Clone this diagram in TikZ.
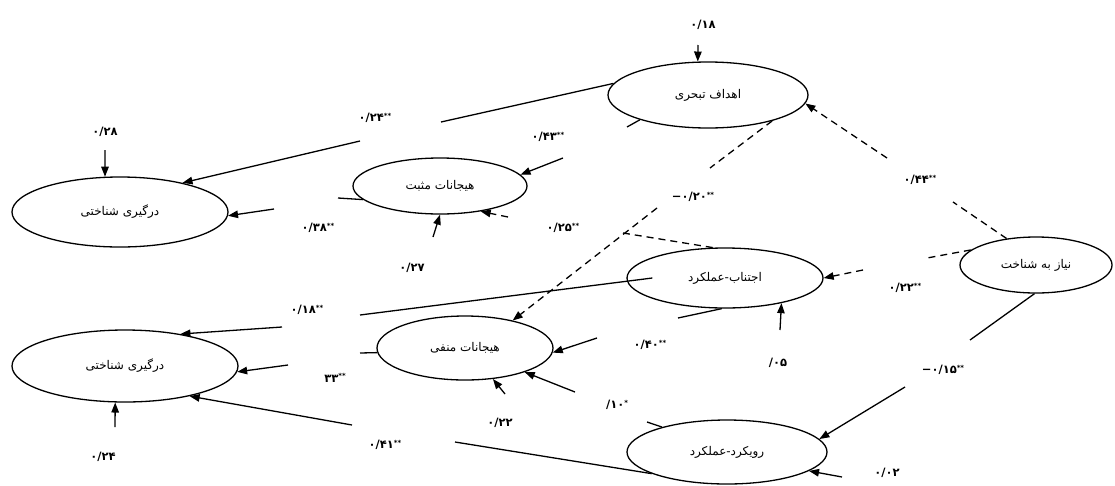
\documentclass[tikz,border=0pt]{standalone}
\usepackage{fontspec}
\newfontfamily\fa[Script=Arabic]{DejaVu Sans}
\newfontfamily\fanum{DejaVu Sans}
\TeXXeTstate=1
\usetikzlibrary{shapes.geometric,arrows.meta}
\newcommand\sig[1]{\raisebox{.6ex}{\fontsize{7}{7}\selectfont #1}}
\tikzset{
  ell/.style={ellipse, draw, line width=1.3pt, inner sep=0pt, font=\fa\fontsize{12}{14}\selectfont},
  lab/.style={font=\fanum\bfseries\fontsize{11.5}{13}\selectfont, inner sep=1pt},
  conn/.style={line width=1.3pt},
  arr/.style={conn, -{Triangle[length=10pt,width=7.5pt]}},
  dsh/.style={dash pattern=on 7pt off 5pt}
}
\begin{document}
\begin{tikzpicture}[x=1pt,y=-1pt]
\useasboundingbox[fill=white] (0,0) rectangle (1115,485);
% ellipses
\node[ell, minimum width=200pt, minimum height=66pt] (E1) at (708,95) {\beginR اهداف تبحری\endR};
\node[ell, minimum width=174pt, minimum height=56pt] (E2) at (440,186) {\beginR هیجانات مثبت\endR};
\node[ell, minimum width=216pt, minimum height=70pt] (E3) at (120,212) {\beginR درگیری شناختی\endR};
\node[ell, minimum width=152pt, minimum height=56pt] (E4) at (1036,265) {\beginR نیاز به شناخت\endR};
\node[ell, minimum width=196pt, minimum height=60pt] (E5) at (725,278) {\beginR اجتناب-عملکرد\endR};
\node[ell, minimum width=176pt, minimum height=64pt] (E6) at (465,348) {\beginR هیجانات منفی\endR};
\node[ell, minimum width=226pt, minimum height=72pt] (E7) at (125,366) {\beginR درگیری شناختی\endR};
\node[ell, minimum width=200pt, minimum height=64pt] (E8) at (727,452) {\beginR رویکرد-عملکرد\endR};
% gap coordinates
\coordinate (a1) at (441,122); \coordinate (a2) at (360,141);
\coordinate (c1) at (338,198); \coordinate (c2) at (274,209);
\coordinate (e1) at (627,127); \coordinate (e2) at (563,158);
\coordinate (f1) at (623,233); \coordinate (f2) at (508,217);
\coordinate (g1) at (710,168); \coordinate (g2) at (657,208);
\coordinate (h1) at (953,202); \coordinate (h2) at (887,158);
\coordinate (i1) at (927,258); \coordinate (i2) at (863,270);
\coordinate (j1) at (970,340); \coordinate (j2) at (905,387);
\coordinate (m1) at (360,315); \coordinate (m2) at (282,327);
\coordinate (n1) at (360,353); \coordinate (n2) at (288,365);
\coordinate (o1) at (455,442); \coordinate (o2) at (352,425);
\coordinate (q1) at (678,318); \coordinate (q2) at (597,338);
\coordinate (r1) at (647,422); \coordinate (r2) at (575,392);
% error sources
\coordinate (eB) at (105,150);
\coordinate (eD) at (433,237);
\coordinate (eL) at (780,330);
\coordinate (eP) at (115,427);
\coordinate (eS) at (505,394);
\coordinate (eK) at (842,477);
\coordinate (eT) at (698,45);
% paths
\draw[conn] (E1.173) -- (a1); \draw[arr] (a2) -- (E3.25);
\draw[conn] (E2.190) -- (c1); \draw[arr] (c2) -- (E3.-2);
\draw[conn] (E1.200) -- (e1); \draw[arr] (e2) -- (E2.8);
\draw[conn,dsh] (E5.112) -- (f1); \draw[arr,dsh] (f2) -- (E2.-32);
\draw[conn,dsh] (E1.-22) -- (g1); \draw[arr,dsh] (g2) -- (E6.30);
\draw[conn,dsh] (E4.138) -- (h1); \draw[arr,dsh] (h2) -- (E1.-5);
\draw[conn,dsh] (E4.167) -- (i1); \draw[arr,dsh] (i2) -- (E5.east);
\draw[conn] (E4.-93) -- (j1); \draw[arr] (j2) -- (E8.8);
\draw[conn] ([xshift=26pt]E5.west) -- (m1); \draw[arr] (m2) -- (E7.30);
\draw[conn] (E6.183) -- (n1); \draw[arr] (n2) -- (E7.-3);
\draw[conn] (E8.196) -- (o1); \draw[arr] (o2) -- (E7.-25);
\draw[conn] (E5.-96) -- (q1); \draw[arr] (q2) -- (E6.-3);
\draw[conn] (E8.159) -- (r1); \draw[arr] (r2) -- (E6.-22);
% error arrows
\draw[arr] (eB) -- (E3.113);
\draw[arr] (eD) -- (E2.south);
\draw[arr] (eL) -- (E5.-24);
\draw[arr] (eP) -- (E7.-105);
\draw[arr] (eS) -- (E6.-48);
\draw[arr] (eK) -- (E8.-13);
\draw[arr] (eT) -- (E1.107);
% labels
\node[lab] (LA) at (375,118) {۰/۲۴\sig{**}};
\node[lab] (LB) at (105,132) {۰/۲۸};
\node[lab] (LC) at (318,228) {۰/۳۸\sig{**}};
\node[lab] (LD) at (412,268) {۰/۲۷};
\node[lab] (LE) at (548,137) {۰/۴۳\sig{**}};
\node[lab] (LF) at (563,228) {۰/۲۵\sig{**}};
\node[lab] (LG) at (693,197) {−۰/۲۰\sig{**}};
\node[lab] (LH) at (920,180) {۰/۴۴\sig{**}};
\node[lab] (LI) at (905,288) {۰/۲۲\sig{**}};
\node[lab] (LJ) at (943,370) {−۰/۱۵\sig{**}};
\node[lab] (LK) at (887,473) {۰/۰۲};
\node[lab] (LL) at (778,363) {/۰۵};
\node[lab] (LM) at (307,310) {۰/۱۸\sig{**}};
\node[lab] (LN) at (335,378) {۳۳\sig{**}};
\node[lab] (LO) at (385,445) {۰/۴۱\sig{**}};
\node[lab] (LP) at (103,457) {۰/۲۴};
\node[lab] (LQ) at (650,345) {۰/۴۰\sig{**}};
\node[lab] (LR) at (617,405) {/۱۰\sig{*}};
\node[lab] (LS) at (500,423) {۰/۲۲};
\node[lab] (LT) at (703,25) {۰/۱۸};
\end{tikzpicture}
\end{document}
